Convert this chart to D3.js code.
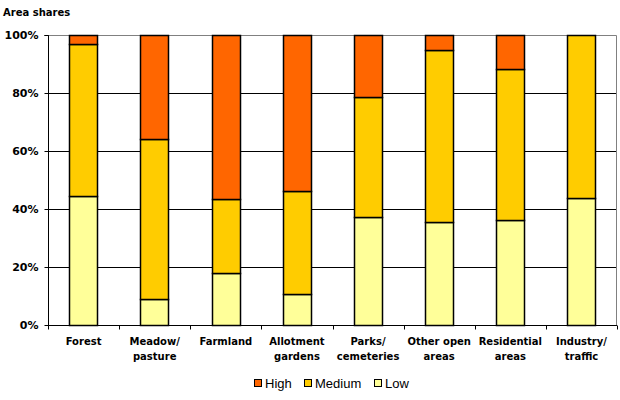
<!DOCTYPE html>
<html>
<head>
<meta charset="utf-8">
<script src="https://cdn.jsdelivr.net/npm/d3@7"></script>
<style>
    body { margin: 0; background: #fff; }
    svg { display: block; }
    .axis-label { font-family: "DejaVu Sans", Verdana, sans-serif; font-weight: bold; font-size: 10px; fill: #000; }
    .y-label { font-size: 11px; }
    .legend text { font-family: "Liberation Sans", Arial, sans-serif; font-size: 13px; fill: #000; }
</style>
</head>
<body>
<svg id="chart"></svg>
<script>
// chart data
var categories = [
    ["Forest"], ["Meadow/", "pasture"], ["Farmland"], ["Allotment", "gardens"],
    ["Parks/", "cemeteries"], ["Other open", "areas"], ["Residential", "areas"], ["Industry/", "traffic"]
];
var seriesNames = ["Low", "Medium", "High"];
var lowValues = [44.6, 8.8, 18.0, 10.6, 37.3, 35.5, 36.2, 43.8];
var mediumValues = [52.3, 55.3, 25.4, 35.7, 41.2, 59.4, 52.2, 56.2];
var highValues = [3.1, 35.9, 56.6, 53.7, 21.5, 5.1, 11.6, 0];
var yTicks = [0, 20, 40, 60, 80, 100];
var colors = { "High": "#ff6600", "Medium": "#ffcc00", "Low": "#ffff99" };

document.addEventListener('DOMContentLoaded', function () {
    var width = 620;
    var height = 400;
    var margin = { top: 35, right: 3, bottom: 75, left: 48 };
    var plotW = width - margin.left - margin.right;
    var plotH = height - margin.top - margin.bottom;

    var svg = d3.select('#chart')
        .attr('width', width)
        .attr('height', height);

    var g = svg.append('g')
        .attr('transform', 'translate(' + margin.left + ',' + margin.top + ')');

    var rows = categories.map(function (c, i) {
        return { key: i, Low: lowValues[i], Medium: mediumValues[i], High: highValues[i] };
    });

    var x = d3.scaleBand()
        .domain(d3.range(categories.length))
        .range([0, plotW])
        .paddingInner(0.6)
        .paddingOuter(0.3);

    var y = d3.scaleLinear()
        .domain([0, 100])
        .range([plotH, 0]);

    // gridlines
    g.selectAll('.grid')
        .data(yTicks.filter(function (t) { return t > 0 && t < 100; }))
        .enter().append('line')
        .attr('x1', 0)
        .attr('x2', plotW)
        .attr('y1', function (d) { return Math.round(y(d)) + 0.5; })
        .attr('y2', function (d) { return Math.round(y(d)) + 0.5; })
        .style('stroke', '#000');

    // plot border (top and right, gray)
    g.append('path')
        .attr('d', 'M0,0.5H' + (plotW - 0.5) + 'V' + plotH)
        .style('fill', 'none')
        .style('stroke', '#808080');

    // stacked bars
    var stack = d3.stack().keys(seriesNames);
    var layers = stack(rows);

    g.selectAll('.layer')
        .data(layers)
        .enter().append('g')
        .attr('class', 'layer')
        .style('fill', function (d) { return colors[d.key]; })
        .selectAll('rect')
        .data(function (d) { return d.filter(function (p) { return p[1] - p[0] > 0; }); })
        .enter().append('rect')
        .attr('x', function (d) { return Math.round(x(d.data.key)) + 0.5; })
        .attr('width', Math.round(x.bandwidth()))
        .attr('y', function (d) { return Math.round(y(d[1])) + 0.5; })
        .attr('height', function (d) { return Math.round(y(d[0])) - Math.round(y(d[1])); })
        .style('stroke', '#000')
        .style('stroke-width', 1.5);

    // y axis
    var yAxis = d3.axisLeft(y)
        .tickValues(yTicks)
        .tickSize(4)
        .tickPadding(6)
        .tickFormat(function (d) { return d + '%'; });

    var yg = g.append('g').attr('transform', 'translate(0.5,0)').call(yAxis);
    yg.select('.domain').attr('d', 'M-4,0.5H0V' + plotH).style('stroke', '#000');
    yg.selectAll('.tick text').attr('class', 'axis-label y-label').attr('x', -10).style('text-anchor', 'end');
    yg.selectAll('.tick line').style('stroke', '#000');

    // x axis with ticks at category boundaries
    var xg = g.append('g').attr('transform', 'translate(0,' + (plotH + 0.5) + ')');
    xg.append('line')
        .attr('x1', 0).attr('x2', plotW)
        .style('stroke', '#000');
    var step = x.step();
    xg.selectAll('.xtick')
        .data(d3.range(categories.length + 1))
        .enter().append('line')
        .attr('x1', function (d) { return Math.round(d * step) + 0.5; })
        .attr('x2', function (d) { return Math.round(d * step) + 0.5; })
        .attr('y1', 0).attr('y2', 4)
        .style('stroke', '#000');

    xg.selectAll('.xlabel')
        .data(categories)
        .enter().append('text')
        .attr('class', 'axis-label')
        .attr('text-anchor', 'middle')
        .attr('transform', function (d, i) { return 'translate(' + (x(i) + x.bandwidth() / 2) + ',19)'; })
        .selectAll('tspan')
        .data(function (d) { return d; })
        .enter().append('tspan')
        .attr('x', 0)
        .attr('y', function (d, i) { return i * 15; })
        .text(function (d) { return d; });

    // title
    svg.append('text')
        .attr('class', 'axis-label')
        .attr('x', 3)
        .attr('y', 16)
        .text('Area shares');

    // legend
    var legendItems = [
        { name: "High", x: 254 },
        { name: "Medium", x: 304 },
        { name: "Low", x: 374 }
    ];
    var legend = svg.append('g').attr('class', 'legend');
    var item = legend.selectAll('g')
        .data(legendItems)
        .enter().append('g')
        .attr('transform', function (d) { return 'translate(' + d.x + ',379)'; });
    item.append('rect')
        .attr('x', 0.5).attr('y', 0.5)
        .attr('width', 7).attr('height', 7)
        .style('fill', function (d) { return colors[d.name]; })
        .style('stroke', '#000');
    item.append('text')
        .attr('x', 11)
        .attr('y', 9)
        .text(function (d) { return d.name; });
});
</script>
</body>
</html>
